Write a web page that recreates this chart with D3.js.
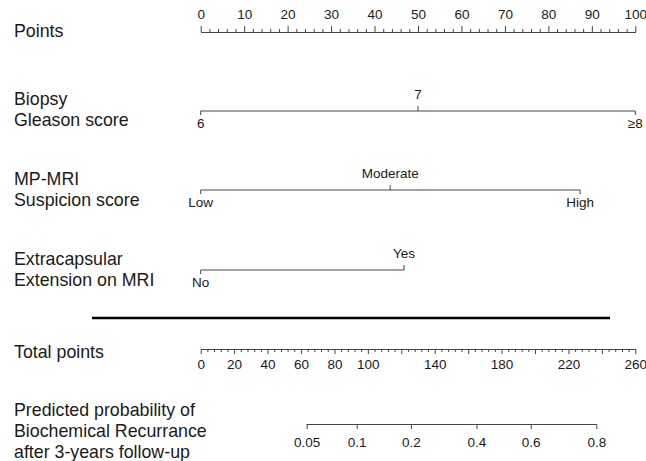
<!DOCTYPE html>
<html>
<head>
<meta charset="utf-8">
<script src="https://cdn.jsdelivr.net/npm/d3@7/dist/d3.min.js"></script>
<style>
  html, body { margin: 0; padding: 0; background: #fff; }
  svg { display: block; }
  text { font-family: "Liberation Sans", Arial, sans-serif; fill: #1a1a1a; }
</style>
</head>
<body>
<svg id="chart" width="646" height="461"></svg>
<script>
// ---- Data ----
const pointsMajorTicks = [0, 10, 20, 30, 40, 50, 60, 70, 80, 90, 100];
const pointsMinorStep = 2;

const gleasonLevels = ["6", "7", "\u22658"];
const gleasonPoints = [0, 50, 100];

const mriLevels = ["Low", "Moderate", "High"];
const mriPoints = [0, 43.6, 87.3];

const eceLevels = ["No", "Yes"];
const ecePoints = [0, 46.8];

const totalMax = 260;
const totalMajorStep = 20;
const totalMinorStep = 4;
const totalTickLabels = [0, 20, 40, 60, 80, 100, 140, 180, 220, 260];

const probTicks = [0.05, 0.1, 0.2, 0.4, 0.6, 0.8];
const probTickLabels = ["0.05", "0.1", "0.2", "0.4", "0.6", "0.8"];
const lpIntercept = -4.53;   // linear predictor = intercept + slope * total points
const lpSlope = 0.025;

const rowLabels = [
  { lines: ["Points"], y: 37 },
  { lines: ["Biopsy", "Gleason score"], y: 105 },
  { lines: ["MP-MRI", "Suspicion score"], y: 185 },
  { lines: ["Extracapsular", "Extension on MRI"], y: 265 },
  { lines: ["Total points"], y: 358 },
  { lines: ["Predicted probability of", "Biochemical Recurrance", "after 3-years follow-up"], y: 416 }
];

// ---- Layout ----
const svg = d3.select("#chart");
const axisColor = "#444";
const tickFont = 13.5;
const x0 = 200.7, x1 = 635.3;

const xPoints = d3.scaleLinear().domain([0, 100]).range([x0, x1]);
const xTotal = d3.scaleLinear().domain([0, totalMax]).range([x0, x1]);
const logit = p => Math.log(p / (1 - p));
const xLogit = d3.scaleLinear()
  .domain([lpIntercept, lpIntercept + lpSlope * totalMax])
  .range([x0, x1]);

function styleAxis(g) {
  g.selectAll("path, line").attr("stroke", axisColor).attr("stroke-width", 1);
  g.selectAll("text").attr("font-size", tickFont).attr("font-family", "'Liberation Sans', Arial, sans-serif").attr("fill", "#1a1a1a");
}

// Left labels
rowLabels.forEach(r => {
  const t = svg.append("text").attr("x", 14).attr("y", r.y).attr("font-size", 17.8);
  r.lines.forEach((ln, i) => {
    t.append("tspan").attr("x", 14).attr("dy", i === 0 ? 0 : 21).text(ln);
  });
});

// Points axis (top)
const yPts = 32;
const minorPts = d3.range(0, 100 + 0.001, pointsMinorStep).filter(v => v % 10 !== 0);
svg.append("g").attr("transform", `translate(0,${yPts})`)
  .call(d3.axisTop(xPoints).tickValues(minorPts).tickSize(3).tickSizeOuter(0).tickFormat(""))
  .call(styleAxis);
svg.append("g").attr("transform", `translate(0,${yPts})`)
  .call(d3.axisTop(xPoints).tickValues(pointsMajorTicks).tickSize(6).tickSizeOuter(0).tickPadding(7).tickFormat(d3.format("d")))
  .call(styleAxis);

// Categorical variable rows
function catRow(levels, pts, yLine) {
  const g = svg.append("g");
  g.append("line")
    .attr("x1", xPoints(d3.min(pts))).attr("x2", xPoints(d3.max(pts)))
    .attr("y1", yLine).attr("y2", yLine)
    .attr("stroke", axisColor);
  levels.forEach((lv, i) => {
    const above = i % 2 === 1;
    const x = xPoints(pts[i]);
    g.append("line").attr("x1", x).attr("x2", x)
      .attr("y1", yLine).attr("y2", above ? yLine - 5 : yLine + 4)
      .attr("stroke", axisColor);
    g.append("text").attr("x", x)
      .attr("y", above ? yLine - 12 : yLine + 16.5)
      .attr("text-anchor", "middle")
      .attr("font-size", tickFont)
      .text(lv);
  });
}
catRow(gleasonLevels, gleasonPoints, 111);
catRow(mriLevels, mriPoints, 190);
catRow(eceLevels, ecePoints, 270);

// Separator
svg.append("line").attr("x1", 92).attr("x2", 610).attr("y1", 318).attr("y2", 318)
  .attr("stroke", "#000").attr("stroke-width", 2.6);

// Total points axis
const yTot = 349;
const totalMajor = d3.range(0, totalMax + 0.001, totalMajorStep);
const totalMinor = d3.range(0, totalMax + 0.001, totalMinorStep).filter(v => v % totalMajorStep !== 0);
svg.append("g").attr("transform", `translate(0,${yTot})`)
  .call(d3.axisBottom(xTotal).tickValues(totalMinor).tickSize(3).tickSizeOuter(0).tickFormat(""))
  .call(styleAxis);
svg.append("g").attr("transform", `translate(0,${yTot})`)
  .call(d3.axisBottom(xTotal).tickValues(totalMajor).tickSize(5).tickSizeOuter(0).tickPadding(5)
    .tickFormat(d => totalTickLabels.includes(d) ? d3.format("d")(d) : ""))
  .call(styleAxis);

// Predicted probability axis
const yProb = 424;
const gp = svg.append("g").attr("transform", `translate(0,${yProb})`)
  .call(d3.axisBottom(xLogit).tickValues(probTicks.map(logit)).tickSize(5).tickSizeOuter(0).tickPadding(8)
    .tickFormat((d, i) => probTickLabels[i]))
  .call(styleAxis);
gp.select(".domain").remove();
gp.append("line")
  .attr("x1", xLogit(logit(probTicks[0]))).attr("x2", xLogit(logit(probTicks[probTicks.length - 1])))
  .attr("y1", 0.5).attr("y2", 0.5)
  .attr("stroke", axisColor);
</script>
</body>
</html>
